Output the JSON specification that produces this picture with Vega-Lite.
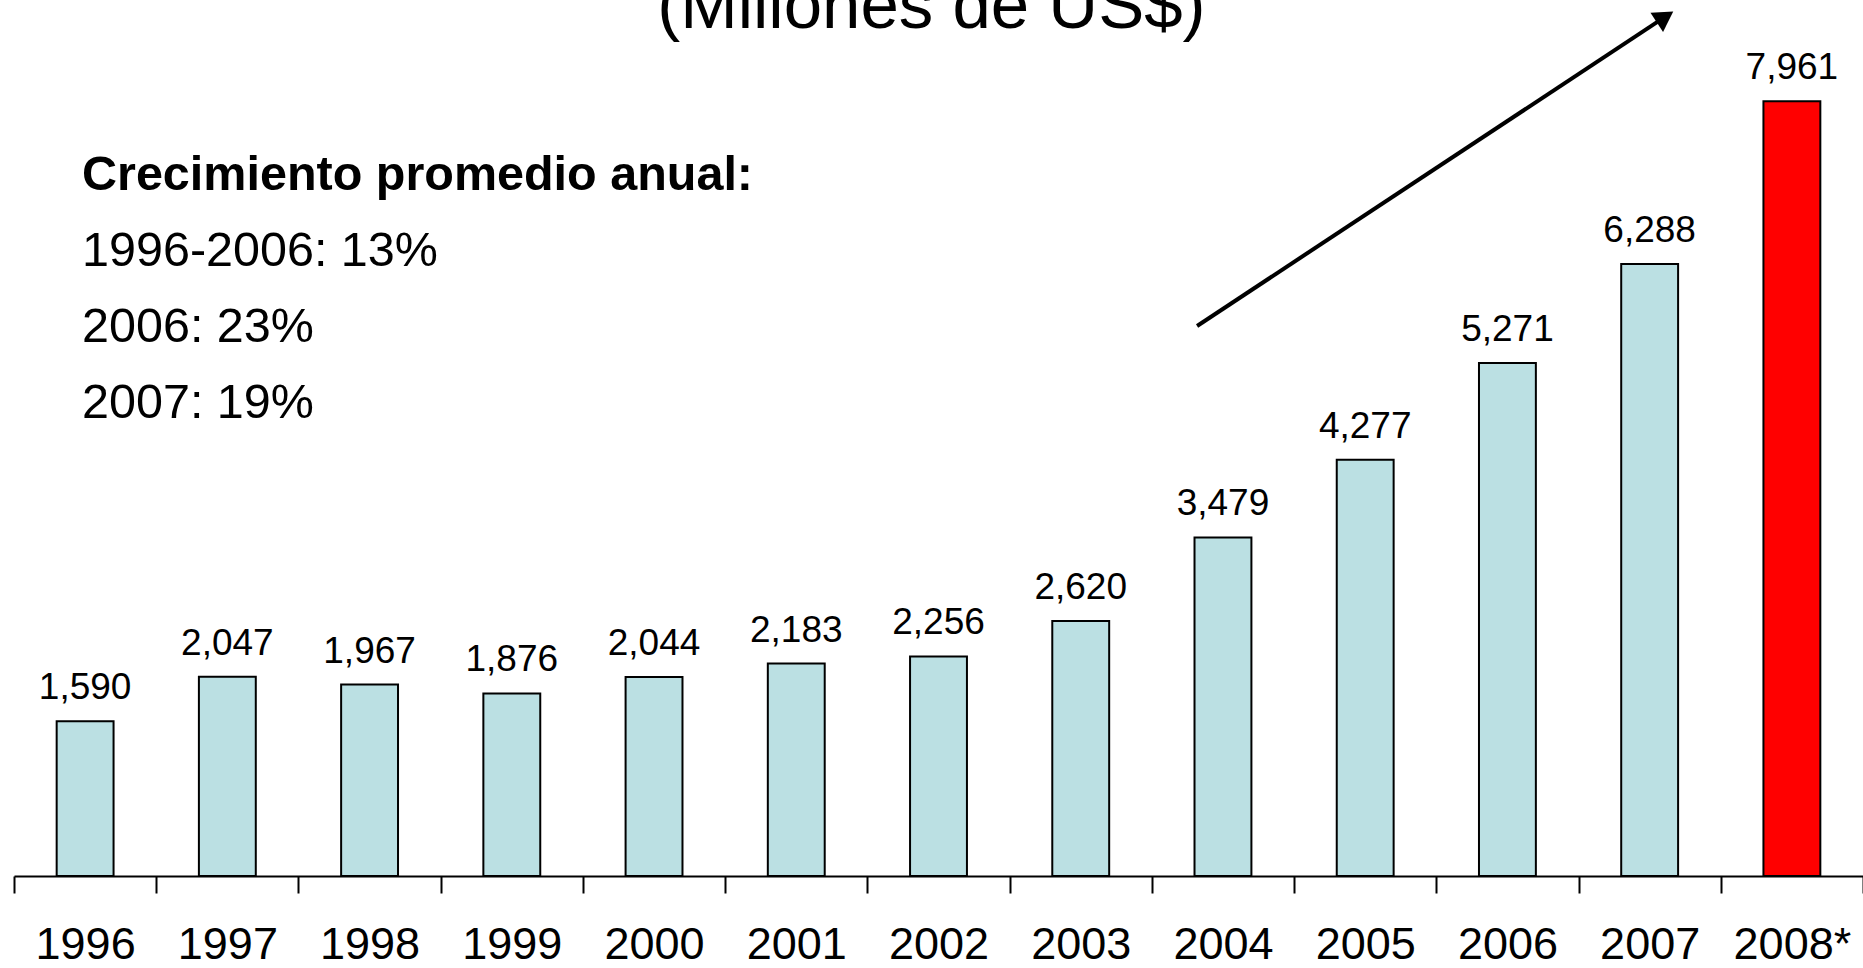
{
  "$schema": "https://vega.github.io/schema/vega-lite/v6.json",
  "width": 1849,
  "height": 876,
  "autosize": {"type": "none"},
  "padding": {"left": 14, "top": 0, "right": 0, "bottom": 92},
  "background": "white",
  "config": {"view": {"stroke": null}, "font": "Liberation Sans"},
  "datasets": {
    "ventas": [
      {"anio": "1996", "valor": 1590, "tipo": "Real"},
      {"anio": "1997", "valor": 2047, "tipo": "Real"},
      {"anio": "1998", "valor": 1967, "tipo": "Real"},
      {"anio": "1999", "valor": 1876, "tipo": "Real"},
      {"anio": "2000", "valor": 2044, "tipo": "Real"},
      {"anio": "2001", "valor": 2183, "tipo": "Real"},
      {"anio": "2002", "valor": 2256, "tipo": "Real"},
      {"anio": "2003", "valor": 2620, "tipo": "Real"},
      {"anio": "2004", "valor": 3479, "tipo": "Real"},
      {"anio": "2005", "valor": 4277, "tipo": "Real"},
      {"anio": "2006", "valor": 5271, "tipo": "Real"},
      {"anio": "2007", "valor": 6288, "tipo": "Real"},
      {"anio": "2008*", "valor": 7961, "tipo": "Estimado"}
    ],
    "flecha": [
      {"px": 8.318, "py": 5651},
      {"px": 11.608, "py": 8826}
    ],
    "punta": [
      {"px": 11.608, "py": 8826}
    ],
    "titulo": [
      {"px": 6.45, "py": 8710, "texto": "(Millones de US$)"}
    ],
    "encabezado": [
      {"px": 0.478, "py": 7202, "texto": "Crecimiento promedio anual:"}
    ],
    "tasas": [
      {"px": 0.478, "py": 6421, "texto": "1996-2006: 13%"},
      {"px": 0.478, "py": 5641, "texto": "2006: 23%"},
      {"px": 0.478, "py": 4860, "texto": "2007: 19%"}
    ]
  },
  "resolve": {"scale": {"x": "independent"}},
  "layer": [
    {
      "data": {"name": "ventas"},
      "mark": {"type": "bar", "width": {"band": 0.4}, "stroke": "black", "strokeWidth": 2},
      "encoding": {
        "x": {
          "field": "anio", "type": "nominal", "sort": null,
          "scale": {"paddingInner": 0, "paddingOuter": 0},
          "axis": {
            "title": null, "tickBand": "extent", "labelAngle": 0,
            "domainColor": "black", "domainWidth": 2,
            "tickColor": "black", "tickWidth": 2, "tickSize": 17,
            "labelFont": "Liberation Sans", "labelFontSize": 45, "labelColor": "black",
            "labelPadding": 51, "labelBaseline": "middle", "labelOverlap": false, "labelFlush": false
          }
        },
        "y": {"field": "valor", "type": "quantitative", "scale": {"domain": [0, 9000]}, "axis": null},
        "color": {"field": "tipo", "type": "nominal", "scale": {"domain": ["Real", "Estimado"], "range": ["#BBE0E3", "#FF0000"]}, "legend": null}
      }
    },
    {
      "data": {"name": "ventas"},
      "mark": {"type": "text", "baseline": "alphabetic", "dy": -22, "fontSize": 37, "font": "Liberation Sans", "color": "black"},
      "encoding": {
        "x": {"field": "anio", "type": "nominal", "sort": null, "scale": {"paddingInner": 0, "paddingOuter": 0}, "axis": null},
        "y": {"field": "valor", "type": "quantitative", "scale": {"domain": [0, 9000]}, "axis": null},
        "text": {"field": "valor", "type": "quantitative", "format": ","}
      }
    },
    {
      "data": {"name": "flecha"},
      "mark": {"type": "line", "color": "black", "strokeWidth": 4},
      "encoding": {
        "x": {"field": "px", "type": "quantitative", "scale": {"domain": [0, 13], "nice": false, "zero": false}, "axis": null},
        "y": {"field": "py", "type": "quantitative", "scale": {"domain": [0, 9000]}, "axis": null}
      }
    },
    {
      "data": {"name": "punta"},
      "mark": {"type": "point", "shape": "triangle-up", "filled": true, "color": "black", "opacity": 1, "size": 520, "angle": 56.6},
      "encoding": {
        "x": {"field": "px", "type": "quantitative", "scale": {"domain": [0, 13], "nice": false, "zero": false}, "axis": null},
        "y": {"field": "py", "type": "quantitative", "scale": {"domain": [0, 9000]}, "axis": null}
      }
    },
    {
      "data": {"name": "titulo"},
      "mark": {"type": "text", "align": "center", "baseline": "alphabetic", "fontSize": 69, "font": "Liberation Sans", "color": "black"},
      "encoding": {
        "x": {"field": "px", "type": "quantitative", "scale": {"domain": [0, 13], "nice": false, "zero": false}, "axis": null},
        "y": {"field": "py", "type": "quantitative", "scale": {"domain": [0, 9000]}, "axis": null},
        "text": {"field": "texto"}
      }
    },
    {
      "data": {"name": "encabezado"},
      "mark": {"type": "text", "align": "left", "baseline": "middle", "fontSize": 48.5, "fontWeight": "bold", "font": "Liberation Sans", "color": "black"},
      "encoding": {
        "x": {"field": "px", "type": "quantitative", "scale": {"domain": [0, 13], "nice": false, "zero": false}, "axis": null},
        "y": {"field": "py", "type": "quantitative", "scale": {"domain": [0, 9000]}, "axis": null},
        "text": {"field": "texto"}
      }
    },
    {
      "data": {"name": "tasas"},
      "mark": {"type": "text", "align": "left", "baseline": "middle", "fontSize": 48.5, "font": "Liberation Sans", "color": "black"},
      "encoding": {
        "x": {"field": "px", "type": "quantitative", "scale": {"domain": [0, 13], "nice": false, "zero": false}, "axis": null},
        "y": {"field": "py", "type": "quantitative", "scale": {"domain": [0, 9000]}, "axis": null},
        "text": {"field": "texto"}
      }
    }
  ]
}
